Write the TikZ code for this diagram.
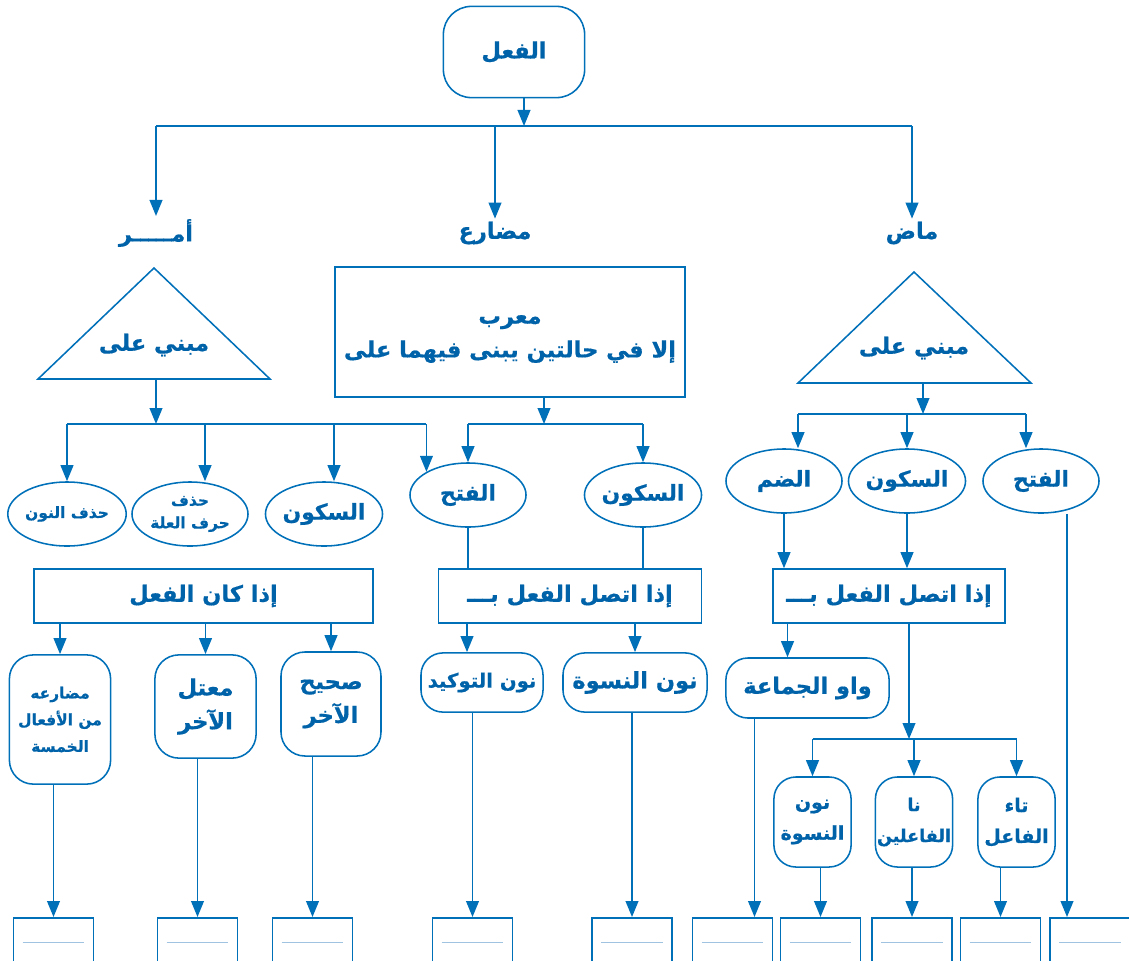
\documentclass[tikz,border=0pt]{standalone}
\usepackage{fontspec}
\newfontfamily\arabicfont[Script=Arabic, BoldFeatures={FakeBold=0.6}]{DejaVu Sans}
\TeXXeTstate=1
\usetikzlibrary{arrows.meta,calc,shapes.geometric}
\definecolor{diagblue}{RGB}{0,112,185}
\definecolor{textblue}{RGB}{0,98,168}
\definecolor{faintblue}{RGB}{160,195,225}
\tikzset{
  >={Triangle[length=0.4cm,width=0.32cm]},
  line/.style={diagblue, line width=1.1pt},
  arr/.style={line, ->},
  faint/.style={faintblue, line width=0.5pt},
  lbl/.style={text=textblue, inner sep=2pt,
    font=\arabicfont\bfseries\fontsize{16}{24}\selectfont},
  big/.style={font=\arabicfont\bfseries\fontsize{15.5}{24}\selectfont},
  small/.style={font=\arabicfont\bfseries\fontsize{11}{16}\selectfont},
  tiny/.style={font=\arabicfont\bfseries\fontsize{13.5}{22}\selectfont},
  oval/.style={lbl, big, ellipse, draw=diagblue, line width=1.1pt, inner sep=0pt,
    minimum width=2.9cm, minimum height=1.6cm, align=center},
  frame/.style={lbl, rectangle, draw=diagblue, line width=1.1pt, inner sep=0pt,
    align=center},
  pill/.style={frame, rounded corners=0.55cm},
  ans/.style={rectangle, draw=diagblue, line width=1.1pt, anchor=north,
    minimum width=2cm, minimum height=1.5cm}
}
\newcommand{\rl}[1]{\beginR #1\endR}

\begin{document}
\begin{tikzpicture}[x=0.025cm, y=-0.025cm]
  \useasboundingbox (0,0) rectangle (1129,960);
  \clip (0,0) rectangle (1129,960);

  % top
  \node[pill, rounded corners=0.7cm, minimum width=3.53cm, minimum height=2.28cm] (fal) at (514,52) {\rl{الفعل}};
  \node[lbl] (amr) at (156,233) {\rl{أمـــــر}};
  \node[lbl] (mudari) at (495,233) {\rl{مضارع}};
  \node[lbl] (madi) at (912,233) {\rl{ماض}};
  \coordinate (topbar) at (524,126);
  \draw[arr] (fal.south -| topbar) -- (topbar);
  \draw[line] (amr |- topbar) -- (madi |- topbar);
  \foreach \t in {amr,mudari,madi}
    \draw[arr] (\t |- topbar) -- (\t.north);

  % triangles and middle box
  \draw[line] (38,379) -- (154,268) -- (270,379) -- cycle;
  \node[lbl] (mabl) at (154,345) {\rl{مبني على}};
  \coordinate (trl) at (156,379);
  \draw[line] (798,383) -- (914,272) -- (1031,383) -- cycle;
  \node[lbl] (mabr) at (914,348) {\rl{مبني على}};
  \coordinate (trr) at (923,383);
  \node[frame, minimum width=8.75cm, minimum height=3.25cm] (murab) at (510,332) {};
  \node[lbl, align=center] (murabtxt) at (510,339)
    {\rl{معرب}\\\rl{إلا في حالتين يبنى فيهما على}};

  % second row: ovals
  \node[oval, small] (e1) at (67,514) {\rl{حذف النون}};
  \node[oval, small] (e2) at (190,514) {\rl{حذف}\\\rl{حرف العلة}};
  \node[oval] (e3) at (324,514) {\rl{السكون}};
  \node[oval] (e4) at (468,495) {\rl{الفتح}};
  \node[oval] (e5) at (643,495) {\rl{السكون}};
  \node[oval] (e6) at (784,481) {\rl{الضم}};
  \node[oval] (e7) at (907,481) {\rl{السكون}};
  \node[oval] (e8) at (1041,481) {\rl{الفتح}};

  % amr branches
  \coordinate (lbar) at (156,424);
  \coordinate (d2) at ($(e2.north)+(15,0)$);
  \coordinate (d3) at ($(e3.north)+(10,0)$);
  \draw[arr] (trl) -- (lbar);
  \draw[line] (e1.north |- lbar) -- (e4.north west |- lbar);
  \foreach \d in {e1.north,d2,d3,e4.north west}
    \draw[arr] (\d |- lbar) -- (\d);

  % mudari branches
  \coordinate (mbar) at (544,424);
  \draw[arr] (murab.south -| mbar) -- (mbar);
  \draw[line] (e4.north |- mbar) -- (e5.north |- mbar);
  \foreach \d in {e4,e5}
    \draw[arr] (\d.north |- mbar) -- (\d.north);

  % madi branches
  \coordinate (rbar) at (923,414);
  \coordinate (d6) at ($(e6.north)+(14,0)$);
  \coordinate (d8) at ($(e8.north)+(-15,0)$);
  \draw[arr] (trr) -- (rbar);
  \draw[line] (d6 |- rbar) -- (d8 |- rbar);
  \foreach \d in {d6,e7.north,d8}
    \draw[arr] (\d |- rbar) -- (\d);

  % conditions
  \node[frame, minimum width=8.48cm, minimum height=1.35cm] (k1) at (203.5,596) {\rl{إذا كان الفعل}};
  \node[frame, minimum width=6.58cm, minimum height=1.35cm] (k2) at (570,596) {\rl{إذا اتصل الفعل بـــ}};
  \node[frame, minimum width=5.8cm, minimum height=1.35cm] (k3) at (889,596) {\rl{إذا اتصل الفعل بـــ}};
  \draw[line] (e4.south) -- (e4.south |- k2.north);
  \draw[line] (e5.south) -- (e5.south |- k2.north);
  \draw[arr] (e6.south) -- (e6.south |- k3.north);
  \draw[arr] (e7.south) -- (e7.south |- k3.north);

  % cases
  \node[pill, small, rounded corners=0.6cm, minimum width=2.53cm, minimum height=3.23cm] (r1) at (60,719.5)
    {\rl{مضارعه}\\[3pt]\rl{من الأفعال}\\[3pt]\rl{الخمسة}};
  \node[pill, rounded corners=0.6cm, minimum width=2.53cm, minimum height=2.58cm] (r2) at (205.5,706.5)
    {\rl{معتل}\\\rl{الآخر}};
  \node[pill, rounded corners=0.6cm, minimum width=2.5cm, minimum height=2.6cm] (r3) at (331,704)
    {\rl{صحيح}\\\rl{الآخر}};
  \node[pill, font=\arabicfont\bfseries\fontsize{14}{20}\selectfont, minimum width=3.05cm, minimum height=1.48cm] (r4) at (482,682.5) {\rl{نون التوكيد}};
  \node[pill, minimum width=3.6cm, minimum height=1.48cm] (r5) at (635,682.5) {\rl{نون النسوة}};
  \node[pill, minimum width=4.08cm, minimum height=1.5cm] (r6) at (807.5,688) {\rl{واو الجماعة}};
  \node[pill, tiny, minimum width=1.93cm, minimum height=2.25cm] (r7) at (812.5,822) {\rl{نون}\\\rl{النسوة}};
  \node[pill, tiny, font=\arabicfont\bfseries\fontsize{12.5}{22}\selectfont, minimum width=1.93cm, minimum height=2.25cm] (r8) at (914,822) {\rl{نا}\\\rl{الفاعلين}};
  \node[pill, tiny, minimum width=1.93cm, minimum height=2.25cm] (r9) at (1016.5,822) {\rl{تاء}\\\rl{الفاعل}};

  \foreach \r in {r1,r2,r3}
    \draw[arr] (\r.north |- k1.south) -- (\r.north);
  \coordinate (d4) at ($(r4.north)+(-15,0)$);
  \draw[arr] (d4 |- k2.south) -- (d4);
  \draw[arr] (r5.north |- k2.south) -- (r5.north);
  \coordinate (d6b) at ($(r6.north)+(-20,0)$);
  \draw[arr] (d6b |- k3.south) -- (d6b);
  \coordinate (sbar) at (909,739);
  \draw[arr] (k3.south -| sbar) -- (sbar);
  \draw[line] (r7.north |- sbar) -- (r9.north |- sbar);
  \foreach \r in {r7,r8,r9}
    \draw[arr] (\r.north |- sbar) -- (\r.north);

  % answer boxes
  \foreach \n/\x in {1/53.5,2/197.5,3/312.5,4/472.5,5/632,6/732.5,7/820.5,8/912,9/1000.5,10/1090} {
    \node[ans] (ans\n) at (\x,917) {};
    \draw[faint] ($(ans\n.north west)+(10,25)$) -- ($(ans\n.north east)+(-10,25)$);
  }
  \foreach \a/\b in {r1/ans1,r2/ans2,r3/ans3,r4/ans4,r5/ans5,r7/ans7,r8/ans8,r9/ans9}
    \draw[arr] (\b.north |- \a.south) -- (\b.north);
  \coordinate (d9) at ($(ans6.north)+(22,0)$);
  \draw[arr] (d9 |- r6.south) -- (d9);
  \coordinate (d10) at ($(ans10.north)+(-23,0)$);
  \draw[arr] (d10 |- e8.south) -- (d10);
\end{tikzpicture}
\end{document}
